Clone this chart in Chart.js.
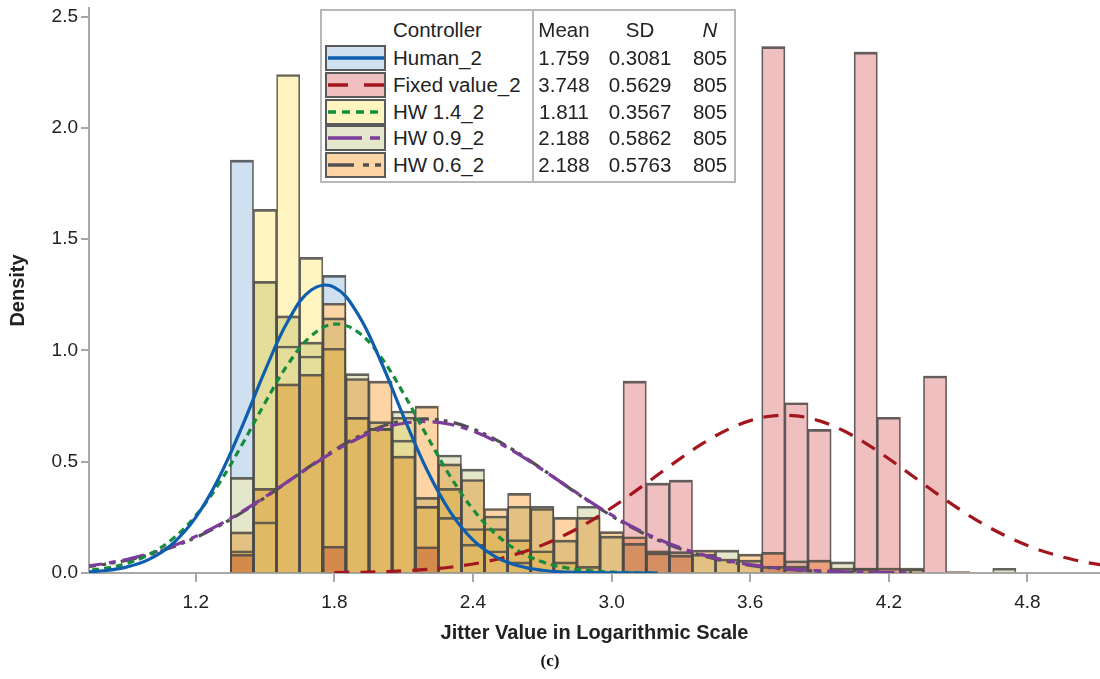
<!DOCTYPE html>
<html>
<head>
<meta charset="utf-8">
<script src="https://cdn.jsdelivr.net/npm/chart.js@4.4.0/dist/chart.umd.min.js"></script>
<style>
html,body{margin:0;padding:0;background:#fff;}
#wrap{position:relative;width:1100px;height:679px;overflow:hidden;background:#fff;}
#legend{position:absolute;left:320px;top:9px;width:412px;height:170px;border:2px solid #b8b8b8;background:#fff;
  font-family:"Liberation Sans",Arial,Helvetica,sans-serif;font-size:20.5px;color:#222;}
#legend .t{position:absolute;line-height:24px;height:24px;white-space:nowrap;}
#legend .c{text-align:center;width:90px;}
#legend .div{position:absolute;left:210px;top:0;width:2px;height:170px;background:#b8b8b8;}
#legend svg{position:absolute;}
</style>
</head>
<body>
<div id="wrap">
<canvas id="c" width="1100" height="679"></canvas>
<div id="legend"></div>
</div>
<script>
// ---------- data ----------
const seriesNames = ["Human_2", "Fixed value_2", "HW 1.4_2", "HW 0.9_2", "HW 0.6_2"];
const seriesMean = ["1.759", "3.748", "1.811", "2.188", "2.188"];
const seriesSD = ["0.3081", "0.5629", "0.3567", "0.5862", "0.5763"];
const seriesN = ["805", "805", "805", "805", "805"];

const xTicks = [1.2, 1.8, 2.4, 3.0, 3.6, 4.2, 4.8];
const yTicks = [0.0, 0.5, 1.0, 1.5, 2.0, 2.5];

// histogram bin centres (bin width 0.1)
const binCenters = [1.4,1.5,1.6,1.7,1.8,1.9,2.0,2.1,2.2,2.3,2.4,2.5,2.6,2.7,2.8,2.9,3.0,3.1,3.2,3.3,3.4,3.5,3.6,3.7,3.8,3.9,4.0,4.1,4.2,4.3,4.4,4.5,4.6,4.7];
const histHuman = [1.855,0.23,1.02,0.975,1.337,0.70,0.65,0.597,0.30,0.25,0.13,0.10,0.05,null,null,null,null,null,null,null,null,null,null,null,null,null,null,null,null,null,null,null,null,null];
const histFixed = [0.085,null,null,null,0.12,null,null,null,0.118,null,null,null,null,null,null,null,null,0.862,0.404,0.417,null,null,null,2.365,0.765,0.645,null,2.34,0.70,null,0.885,null,null,null];
const histHW14 = [0.10,1.634,2.24,1.418,1.01,0.70,0.65,0.70,0.30,0.38,0.20,0.20,0.15,0.10,0.05,0.03,null,null,null,null,null,null,null,null,null,null,null,null,null,null,null,null,null,null];
const histHW09 = [0.43,1.31,1.155,1.037,1.146,0.896,0.68,0.728,0.34,0.53,0.467,0.256,0.30,0.30,0.148,0.30,0.166,0.133,0.09,0.096,0.085,0.103,0.058,0.03,0.055,null,0.05,0.02,null,0.015,null,null,null,0.021];
const histHW06 = [0.185,0.38,0.85,0.893,1.212,0.874,0.862,0.525,0.75,0.49,0.42,0.29,0.358,0.29,0.25,0.25,0.186,0.163,0.10,0.08,0.103,0.063,0.085,0.093,0.03,0.058,0.022,0.022,0.022,0.022,null,0.006,null,null];

// fitted density curves, read at x = 0.7 ... 5.2 (step 0.1)
const curveX = [0.7,0.8,0.9,1.0,1.1,1.2,1.3,1.4,1.5,1.6,1.7,1.8,1.9,2.0,2.1,2.2,2.3,2.4,2.5,2.6,2.7,2.8,2.9,3.0,3.1,3.2,3.3,3.4,3.5,3.6,3.7,3.8,3.9,4.0,4.1,4.2,4.3,4.4,4.5,4.6,4.7,4.8,4.9,5.0,5.1,5.2];
const curveHuman = [0.0035,0.0102,0.0266,0.0623,0.1315,0.2497,0.4269,0.6568,0.9095,1.1335,1.2714,1.2835,1.1662,0.9536,0.7019,0.4649,0.2772,0.1487,0.0718,0.0312,0.0122,0.0043,0.0014,0.0004,0.0001,0.0000,null,null,null,null,null,null,null,null,null,null,null,null,null,null,null,null,null,null,null,null];
const curveFixed = [null,null,null,null,null,null,null,null,null,null,null,0.0018,0.0032,0.0057,0.0098,0.0162,0.0259,0.0403,0.0607,0.0886,0.1252,0.1716,0.2279,0.2931,0.3654,0.4412,0.5163,0.5854,0.6432,0.6847,0.7062,0.7057,0.6834,0.6411,0.5829,0.5134,0.4382,0.3624,0.2904,0.2254,0.1696,0.1236,0.0873,0.0597,0.0396,0.0255];
const curveHW14 = [0.0088,0.0201,0.0429,0.0843,0.1534,0.2579,0.4008,0.5759,0.7648,0.9389,1.0656,1.1179,1.0841,0.9720,0.8055,0.6171,0.4370,0.2861,0.1731,0.0969,0.0501,0.0240,0.0106,0.0043,0.0016,0.0006,null,null,null,null,null,null,null,null,null,null,null,null,null,null,null,null,null,null,null,null];
const curveHW09 = [0.0272,0.0413,0.0609,0.0873,0.1216,0.1644,0.2160,0.2757,0.3418,0.4115,0.4812,0.5467,0.6032,0.6464,0.6729,0.6804,0.6682,0.6375,0.5907,0.5316,0.4647,0.3946,0.3255,0.2607,0.2029,0.1533,0.1126,0.0803,0.0556,0.0374,0.0244,0.0155,0.0096,0.0057,0.0033,0.0019,0.0010,null,null,null,null,null,null,null,null,null];
const curveHW06 = [0.0247,0.0381,0.0570,0.0827,0.1165,0.1592,0.2112,0.2718,0.3394,0.4114,0.4837,0.5519,0.6110,0.6564,0.6842,0.6921,0.6793,0.6470,0.5979,0.5362,0.4665,0.3939,0.3227,0.2566,0.1979,0.1481,0.1076,0.0758,0.0519,0.0344,0.0222,0.0138,0.0084,0.0049,0.0028,0.0016,0.0008,null,null,null,null,null,null,null,null,null];

// ---------- styles ----------
const fillColors = ["#cfe0f0", "#f0bfc0", "#fef4c0", "#e4e7cb", "#fdd5a5"];
const lineColors = ["#0d5eaf", "#a3161d", "#158c3c", "#7b3c9a", "#505050"];
const lineDash = [[], [15, 11], [7, 5], [22, 7, 7, 7], [16, 6, 4, 5, 4, 6]];
const legendDash = [[], [20, 16], [8, 6], [34, 8, 10, 8], [26, 9, 6, 6, 6, 6]];
const hists = [histHuman, histFixed, histHW14, histHW09, histHW06];
const curves = [curveHuman, curveFixed, curveHW14, curveHW09, curveHW06];

const X_MIN = 0.738, X_MAX = 5.114, Y_MIN = 0, Y_MAX = 2.5386;

const datasets = [];
// curves (drawn on top)
curves.forEach((cv, i) => {
  datasets.push({
    type: 'line', label: seriesNames[i] + ' fit',
    data: curveX.map((x, k) => ({x: x, y: cv[k]})).filter(p => p.y !== null),
    borderColor: lineColors[i], borderWidth: 3.2, borderDash: lineDash[i],
    pointRadius: 0, fill: false, tension: 0.4, order: 0, blend: 'source-over'
  });
});
// outlines
hists.forEach((h, i) => {
  datasets.push({
    type: 'bar', label: seriesNames[i] + ' outline',
    data: binCenters.map((x, k) => ({x: x, y: h[k]})).filter(p => p.y !== null),
    backgroundColor: 'rgba(0,0,0,0)', borderColor: 'rgba(75,75,75,0.85)',
    borderWidth: {top: 2, left: 1, right: 1, bottom: 0}, borderSkipped: false,
    order: 1, blend: 'source-over'
  });
});
// fills: HW / Fixed multiply together, Human sits behind them
hists.forEach((h, i) => {
  datasets.push({
    type: 'bar', label: seriesNames[i],
    data: binCenters.map((x, k) => ({x: x, y: h[k]})).filter(p => p.y !== null),
    backgroundColor: fillColors[i], borderWidth: 0,
    order: i === 0 ? 2 : 3, blend: i === 0 ? 'destination-over' : 'multiply'
  });
});

const blendPlugin = {
  id: 'blend',
  beforeDatasetDraw(chart, args) {
    const ds = chart.data.datasets[args.index];
    chart.ctx.save();
    chart.ctx.globalCompositeOperation = ds.blend || 'source-over';
  },
  afterDatasetDraw(chart) { chart.ctx.restore(); }
};

const FONT = '"Liberation Sans", Arial, Helvetica, sans-serif';
const AXIS_GRAY = '#a8a8a8';

new Chart(document.getElementById('c'), {
  type: 'bar',
  data: {datasets: datasets},
  plugins: [blendPlugin],
  options: {
    responsive: false, animation: false, devicePixelRatio: 1,
    layout: {padding: {top: 8, left: 0, right: 0, bottom: 0}},
    datasets: {bar: {grouped: false, barPercentage: 1, categoryPercentage: 1}},
    plugins: {
      legend: {display: false}, tooltip: {enabled: false},
      title: {display: true, position: 'bottom', text: '(c)', color: '#111',
        font: {family: '"Liberation Serif", "Times New Roman", serif', size: 17, weight: 'bold', lineHeight: 1},
        padding: {top: 0, bottom: 9}}
    },
    scales: {
      x: {
        type: 'linear', min: X_MIN, max: X_MAX, offset: false,
        afterBuildTicks: s => { s.ticks = xTicks.map(v => ({value: v})); },
        afterFit: s => { s.height = 80; s.paddingLeft = 0; s.paddingRight = 0; },
        grid: {display: true, drawOnChartArea: false, drawTicks: true, tickLength: 9, color: AXIS_GRAY, lineWidth: 2, offset: false},
        border: {display: true, color: AXIS_GRAY, width: 2},
        ticks: {color: '#222', font: {family: FONT, size: 19}, padding: 9, maxRotation: 0, autoSkip: false,
          callback: v => Number(v).toFixed(1)},
        title: {display: true, text: 'Jitter Value in Logarithmic Scale', color: '#222',
          font: {family: FONT, size: 20, weight: 'bold'}, padding: {top: 0, bottom: 8}}
      },
      y: {
        type: 'linear', min: Y_MIN, max: Y_MAX,
        afterBuildTicks: s => { s.ticks = yTicks.map(v => ({value: v})); },
        afterFit: s => { s.width = 89; s.paddingTop = 0; s.paddingBottom = 0; },
        grid: {display: true, drawOnChartArea: false, drawTicks: true, tickLength: 8, color: AXIS_GRAY, lineWidth: 2},
        border: {display: true, color: AXIS_GRAY, width: 2},
        ticks: {color: '#222', font: {family: FONT, size: 19}, padding: 3,
          callback: v => Number(v).toFixed(1)},
        title: {display: true, text: 'Density', color: '#222',
          font: {family: FONT, size: 20, weight: 'bold'}, padding: {top: 6, bottom: 0}}
      }
    }
  }
});

// ---------- legend ----------
(function buildLegend() {
  const lg = document.getElementById('legend');
  const rowY = [19, 47, 74, 101, 127, 154];
  const colMean = 242, colSD = 318, colN = 388;
  const add = (html, cls, left, cy, extra) => {
    const s = document.createElement('div');
    s.className = 't ' + (cls || '');
    s.style.left = left + 'px'; s.style.top = (cy - 12) + 'px';
    if (extra) s.style.cssText += extra;
    s.textContent = html; lg.appendChild(s); return s;
  };
  const d = document.createElement('div'); d.className = 'div'; lg.appendChild(d);
  add('Controller', '', 71, rowY[0]);
  add('Mean', 'c', colMean - 45, rowY[0]);
  add('SD', 'c', colSD - 45, rowY[0]);
  add('N', 'c', colN - 45, rowY[0], 'font-style:italic;');
  const ns = 'http://www.w3.org/2000/svg';
  seriesNames.forEach((name, i) => {
    const cy = rowY[i + 1];
    const svg = document.createElementNS(ns, 'svg');
    svg.setAttribute('width', '62'); svg.setAttribute('height', '26');
    svg.style.left = '3px'; svg.style.top = (cy - 13) + 'px';
    const r = document.createElementNS(ns, 'rect');
    r.setAttribute('x', '1'); r.setAttribute('y', '1'); r.setAttribute('width', '59'); r.setAttribute('height', '24');
    r.setAttribute('fill', fillColors[i]); r.setAttribute('stroke', '#5a5a5a'); r.setAttribute('stroke-width', '2');
    svg.appendChild(r);
    const l = document.createElementNS(ns, 'line');
    l.setAttribute('x1', '3'); l.setAttribute('x2', '59'); l.setAttribute('y1', '13'); l.setAttribute('y2', '13');
    l.setAttribute('stroke', lineColors[i]); l.setAttribute('stroke-width', '3.5');
    if (legendDash[i].length) l.setAttribute('stroke-dasharray', legendDash[i].join(' '));
    svg.appendChild(l);
    lg.appendChild(svg);
    add(name, '', 71, cy);
    add(seriesMean[i], 'c', colMean - 45, cy);
    add(seriesSD[i], 'c', colSD - 45, cy);
    add(seriesN[i], 'c', colN - 45, cy);
  });
})();
</script>
</body>
</html>
